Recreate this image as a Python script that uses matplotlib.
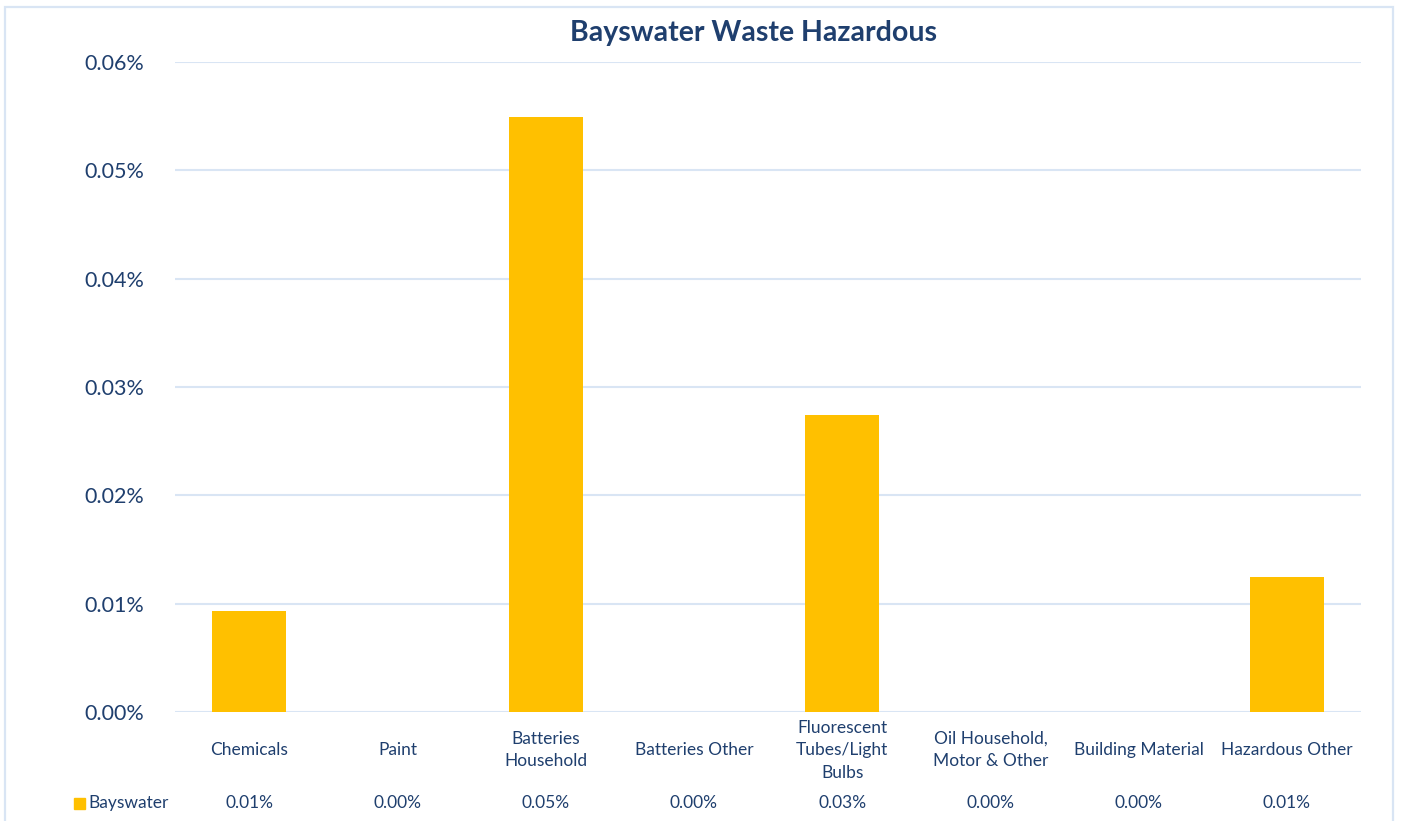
import matplotlib.pyplot as plt
import matplotlib.transforms as mtransforms
from matplotlib.patches import Rectangle
from matplotlib.ticker import FuncFormatter

categories = ['Chemicals', 'Paint', 'Batteries\nHousehold', 'Batteries Other',
              'Fluorescent\nTubes/Light\nBulbs', 'Oil Household,\nMotor & Other',
              'Building Material', 'Hazardous Other']
# share of total waste, in percent
bayswater = [0.0093, 0.0, 0.0549, 0.0, 0.0274, 0.0, 0.0, 0.0125]
yticks = [0.00, 0.01, 0.02, 0.03, 0.04, 0.05, 0.06]

plt.rcParams['font.family'] = ['Lato', 'DejaVu Sans']
text_col = '#1F3F6E'
grid_col = '#D9E5F4'
bar_col = '#FFC000'

W, H = 1401, 821
fig = plt.figure(figsize=(W / 100, H / 100), dpi=100)

# outer chart frame
fig.patches.append(Rectangle((5 / W, -0.05), 1388 / W, 1.05 - 7 / H,
                             transform=fig.transFigure, fill=False,
                             edgecolor=grid_col, linewidth=1.6))

ax = fig.add_axes([175 / W, 1 - 712 / H, (1361 - 175) / W, (712 - 62) / H])
x = range(len(categories))
ax.bar(x, bayswater, width=0.5, color=bar_col, zorder=3)

ax.set_xlim(-0.5, len(categories) - 0.5)
ax.set_ylim(0, 0.06)
ax.set_yticks(yticks)
ax.yaxis.set_major_formatter(FuncFormatter(lambda v, p: f'{v:.2f}%'))
ax.tick_params(axis='y', length=0, pad=22, labelsize=15.5, labelcolor=text_col)
ax.set_xticks([])
ax.grid(axis='y', color=grid_col, linewidth=1.5, zorder=0)
for s in ax.spines.values():
    s.set_visible(False)

fig.text(754 / W, 1 - 33 / H, 'Bayswater Waste Hazardous',
         ha='center', va='center', fontsize=20.5, fontweight='bold',
         color=text_col)

# category labels and data table row
trans = mtransforms.blended_transform_factory(ax.transData, fig.transFigure)
for i, (c, v) in enumerate(zip(categories, bayswater)):
    ax.text(i, 1 - 750 / H, c, transform=trans, ha='center', va='center',
            fontsize=12.5, color=text_col, linespacing=1.5)
    ax.text(i, 1 - 803 / H, f'{v:.2f}%', transform=trans, ha='center',
            va='center', fontsize=12.5, color=text_col)

fig.patches.append(Rectangle((74 / W, 1 - 809 / H), 11 / W, 11 / H,
                             transform=fig.transFigure, color=bar_col))
fig.text(88 / W, 1 - 803 / H, 'Bayswater', ha='left', va='center',
         fontsize=12.5, color=text_col)

fig.savefig('out.png', dpi=100)
